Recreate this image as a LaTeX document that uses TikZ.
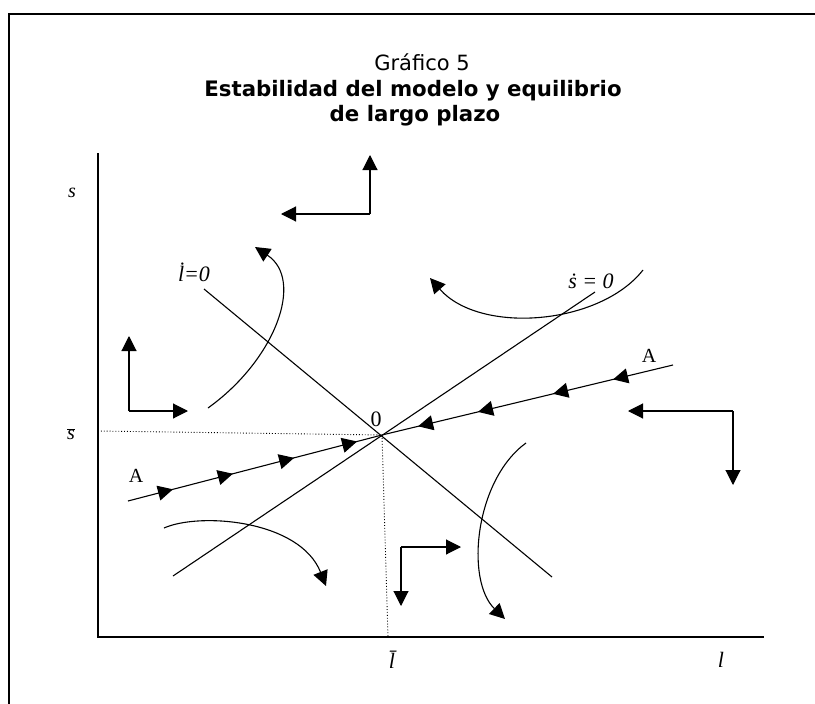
\documentclass[tikz,border=0pt]{standalone}
\usepackage{fontspec}
\setmainfont{Liberation Serif}
\newfontfamily\titlefont{DejaVu Sans}
\usetikzlibrary{arrows.meta,decorations.markings}
\tikzset{
  tri/.tip={Triangle[length=15pt,width=15pt]},
  flow/.style={line width=1.1pt,-tri},
  phase/.style={line width=1.1pt},
  guide/.style={line width=0.9pt,dotted},
  axis/.style={line width=1.6pt},
  lab/.style={inner sep=0pt,font=\fontsize{22}{22}\selectfont\itshape},
  labs/.style={inner sep=0pt,font=\fontsize{20}{20}\selectfont\itshape},
  labup/.style={inner sep=0pt,font=\fontsize{22}{22}\selectfont},
  alab/.style={inner sep=0pt,font=\fontsize{20}{20}\selectfont},
  ttl/.style={inner sep=0pt,anchor=base,font=\titlefont\fontsize{21}{21}\selectfont},
  ttlb/.style={inner sep=0pt,anchor=base,font=\titlefont\bfseries\fontsize{21.3}{21.3}\selectfont},
}
\begin{document}
\begin{tikzpicture}[x=1pt,y=-1pt]
\useasboundingbox (0,0) rectangle (815,704);
% frame
\draw[line width=2.2pt] (9,704) |- (815,14);
% title
\node[ttl] (t1) at (422,70) {Gráfico 5};
\node[ttlb] (t2) at (413,96) {Estabilidad del modelo y equilibrio};
\node[ttlb] (t3) at (415,121) {de largo plazo};
% axes
\coordinate (O) at (98,637);
\coordinate (Ytop) at (98,153);
\coordinate (Xend) at (764,637);
\draw[axis] (Ytop) -- (O) -- (Xend);
% equilibrium
\coordinate (E) at (382,435);
\coordinate (sbar) at (98,431);
\coordinate (lbar) at (388,637);
\draw[guide] (sbar) -- (E) -- (lbar);
% loci
\coordinate (l0a) at (204,289);
\coordinate (l0b) at (552,577);
\draw[phase] (l0a) -- (l0b);
\coordinate (s0a) at (173,576);
\coordinate (s0b) at (595,292);
\draw[phase] (s0a) -- (s0b);
% saddle path A
\coordinate (A1) at (128,501);
\coordinate (A2) at (673,365);
\draw[line width=1.1pt,postaction={decorate},decoration={markings,
   mark=at position 0.177 with {\arrow{tri}},
   mark=at position 0.413 with {\arrow{tri}},
   mark=at position 0.654 with {\arrow{tri}},
   mark=at position 0.902 with {\arrow{tri}}}] (A1) -- (E);
\draw[line width=1.1pt,postaction={decorate},decoration={markings,
   mark=at position 0.206 with {\arrow{tri}},
   mark=at position 0.412 with {\arrow{tri}},
   mark=at position 0.670 with {\arrow{tri}},
   mark=at position 0.876 with {\arrow{tri}}}] (A2) -- (E);
% L-shaped direction arrows
\coordinate (c1) at (370,214);
\coordinate (c1u) at (370,155);
\coordinate (c1l) at (281,214);
\draw[flow] (c1) -- (c1u);
\draw[flow] (c1) -- (c1l);
\coordinate (c2) at (129,411);
\coordinate (c2u) at (129,336);
\coordinate (c2r) at (188,411);
\draw[flow] (c2) -- (c2u);
\draw[flow] (c2) -- (c2r);
\coordinate (c3) at (733,411);
\coordinate (c3l) at (628,411);
\coordinate (c3d) at (733,485);
\draw[flow] (c3) -- (c3l);
\draw[flow] (c3) -- (c3d);
\coordinate (c4) at (401,547);
\coordinate (c4r) at (461,547);
\coordinate (c4d) at (401,606);
\draw[flow] (c4) -- (c4r);
\draw[flow] (c4) -- (c4d);
% curved trajectories
\coordinate (u1s) at (208,408);
\coordinate (u1e) at (255,247);
\draw[flow] (u1s) .. controls (275,360) and (305,280) .. (u1e);
\coordinate (u2s) at (643,270);
\coordinate (u2e) at (430,278);
\draw[flow] (u2s) .. controls (600,325) and (480,335) .. (u2e);
\coordinate (d1s) at (164,528);
\coordinate (d1e) at (326,586);
\draw[flow] (d1s) .. controls (200,512) and (300,520) .. (d1e);
\coordinate (d2s) at (526,443);
\coordinate (d2e) at (505,619);
\draw[flow] (d2s) .. controls (475,480) and (465,580) .. (d2e);
% labels
\node[labs] (ls) at (72,193) {s};
\node[labs] (lsbar) at (71,434) {$\overline{\textit{s}}$};
\node[lab] (llbar) at (392,660) {\=l};
\node[lab] (ll) at (721,660) {l};
\node[lab] (ldot) at (194,272) {\.{l}=0};
\node[lab] (sdot) at (591,281) {\.{s} = 0};
\node[labup] (zero) at (376,419) {0};
\node[alab] (a1) at (136,476) {A};
\node[alab] (a2) at (649,356) {A};
\end{tikzpicture}
\end{document}
